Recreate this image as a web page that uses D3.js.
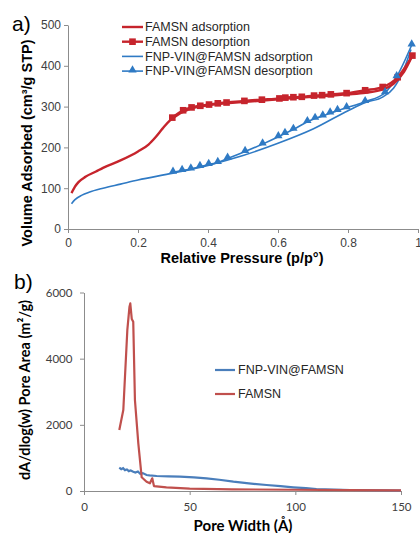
<!DOCTYPE html>
<html>
<head>
<meta charset="utf-8">
<script src="https://cdn.jsdelivr.net/npm/d3@7"></script>
<style>
  body { margin: 0; background: #fff; }
  svg { display: block; }
  .tick text { fill: #404040; }
</style>
</head>
<body>
<script>
// panel a: N2 isotherms (p/p0, cm3/g STP)
const famsnAdsP = [0.01, 0.02, 0.03, 0.05, 0.08, 0.1, 0.15, 0.2, 0.23, 0.25, 0.27, 0.29, 0.3, 0.35, 0.4, 0.5, 0.6, 0.7, 0.8, 0.85, 0.9, 0.93, 0.96, 0.984];
const famsnAdsV = [88, 104, 115, 128, 141, 150, 168, 190, 207, 225, 246, 265, 272, 295, 303, 311, 318, 324, 330, 334, 342, 356, 385, 425];
const famsnDesP = [0.298, 0.329, 0.353, 0.378, 0.403, 0.428, 0.453, 0.504, 0.554, 0.604, 0.621, 0.644, 0.668, 0.703, 0.726, 0.751, 0.796, 0.849, 0.899, 0.942, 0.984];
const famsnDesV = [273, 291, 298, 302, 305, 308, 310, 314, 317, 320, 322, 323, 324, 327, 328, 330, 333, 340, 348, 372, 425];
const fnpAdsP = [0.01, 0.02, 0.04, 0.06, 0.1, 0.15, 0.2, 0.3, 0.4, 0.5, 0.6, 0.7, 0.8, 0.85, 0.9, 0.93, 0.958, 0.98];
const fnpAdsV = [62, 72, 83, 90, 100, 110, 120, 137, 156, 180, 210, 245, 290, 310, 324, 345, 388, 440];
const fnpDesP = [0.3, 0.326, 0.351, 0.377, 0.402, 0.428, 0.456, 0.506, 0.556, 0.601, 0.62, 0.644, 0.684, 0.706, 0.728, 0.749, 0.77, 0.796, 0.849, 0.906, 0.939, 0.982];
const fnpDesV = [139, 143, 147, 153, 158, 163, 173, 190, 208, 226, 234, 244, 263, 271, 277, 284, 290, 297, 312, 334, 373, 451];
const xTicksA = [0, 0.2, 0.4, 0.6, 0.8, 1];
const yTicksA = [0, 100, 200, 300, 400, 500];
const legendA = ["FAMSN adsorption", "FAMSN desorption", "FNP-VIN@FAMSN adsorption", "FNP-VIN@FAMSN desorption"];

// panel b: pore area distribution (Å, m2/g)
const famsnW = [16.7, 18.6, 20.5, 21.5, 21.9, 22.6, 23.3, 24.1, 25.7, 27.3, 29.6, 31.2, 32.3, 33.1, 39, 50, 70, 100, 125, 150];
const famsnA = [1843, 2450, 4860, 5560, 5670, 5200, 5115, 2750, 1440, 414, 281, 232, 383, 150, 112, 70, 50, 38, 28, 20];
const fnpW = [16.7, 17.6, 18.5, 19.4, 20.3, 21.2, 22.1, 23.3, 24.3, 25.5, 26.6, 27.8, 29.6, 31, 34.4, 40, 45.4, 52, 58, 64, 70.7, 78, 86.4, 93, 99, 105, 110, 118, 126, 138, 150];
const fnpA = [705, 660, 690, 630, 650, 600, 620, 583, 560, 590, 520, 540, 483, 470, 453, 445, 432, 410, 384, 340, 281, 230, 181, 145, 112, 85, 60, 42, 30, 22, 15];
const xTicksB = [0, 50, 100, 150];
const yTicksB = [0, 2000, 4000, 6000];
const legendB = ["FNP-VIN@FAMSN", "FAMSN"];

const red = "#c6242c", blue = "#2f7ac4";
const redB = "#c0504d", blueB = "#4a7ebb";
const axisCol = "#8c8c8c";

const svg = d3.select("body").append("svg").attr("width", 420).attr("height", 533);

function styleAxis(g) {
  g.selectAll("path, line").attr("stroke", axisCol);
}

// ---------- panel a ----------
const xa = d3.scaleLinear().domain([0, 1]).range([68, 418]);
const ya = d3.scaleLinear().domain([0, 500]).range([229, 25]);
const fontA = "'Liberation Sans', Arial, sans-serif";

svg.append("g").attr("transform", "translate(0,229)")
  .call(d3.axisBottom(xa).tickValues(xTicksA).tickSize(4).tickSizeOuter(0).tickFormat(d3.format("")))
  .call(styleAxis)
  .call(g => g.selectAll("text").attr("font-family", fontA).attr("font-size", 12).attr("dy", "0.95em"));
svg.append("g").attr("transform", "translate(68,0)")
  .call(d3.axisLeft(ya).tickValues(yTicksA).tickSize(4).tickSizeOuter(0))
  .call(styleAxis)
  .call(g => g.selectAll("text").attr("font-family", fontA).attr("font-size", 12));

const lineA = d3.line().x(d => xa(d[0])).y(d => ya(d[1])).curve(d3.curveMonotoneX);
const zipA = (xs, ys) => xs.map((x, i) => [x, ys[i]]);

svg.append("path").datum(zipA(fnpAdsP, fnpAdsV)).attr("d", lineA)
  .attr("fill", "none").attr("stroke", blue).attr("stroke-width", 1.6);
svg.append("path").datum(zipA(fnpDesP, fnpDesV)).attr("d", lineA)
  .attr("fill", "none").attr("stroke", blue).attr("stroke-width", 1.6);
svg.append("path").datum(zipA(famsnAdsP, famsnAdsV)).attr("d", lineA)
  .attr("fill", "none").attr("stroke", red).attr("stroke-width", 2.4);
svg.append("path").datum(zipA(famsnDesP, famsnDesV)).attr("d", lineA)
  .attr("fill", "none").attr("stroke", red).attr("stroke-width", 2.4);

const sq = d3.symbol().type(d3.symbolSquare).size(44);
const tri = d3.symbol().type(d3.symbolTriangle).size(30);
svg.append("g").selectAll("path").data(zipA(famsnDesP, famsnDesV)).join("path")
  .attr("d", sq).attr("fill", red)
  .attr("transform", d => `translate(${xa(d[0])},${ya(d[1])})`);
svg.append("g").selectAll("path").data(zipA(fnpDesP, fnpDesV)).join("path")
  .attr("d", tri).attr("fill", blue)
  .attr("transform", d => `translate(${xa(d[0])},${ya(d[1]) - 1})`);

// legend a
const legA = svg.append("g").attr("font-family", fontA).attr("font-size", 12.5);
legendA.forEach((t, i) => {
  const y = 27 + i * 14.7;
  const c = i < 2 ? red : blue;
  legA.append("line").attr("x1", 122).attr("x2", 143).attr("y1", y).attr("y2", y)
    .attr("stroke", c).attr("stroke-width", i < 2 ? 2.4 : 1.6);
  if (i === 1) legA.append("path").attr("d", sq).attr("fill", c).attr("transform", `translate(132.5,${y})`);
  if (i === 3) legA.append("path").attr("d", tri).attr("fill", c).attr("transform", `translate(132.5,${y - 1})`);
  legA.append("text").attr("x", 145).attr("y", y).attr("dy", "0.35em").attr("fill", "#262626").text(t);
});

svg.append("text").attr("x", 242).attr("y", 263).attr("text-anchor", "middle")
  .attr("font-family", fontA).attr("font-size", 14.5).attr("font-weight", "bold").text("Relative Pressure (p/p°)");
svg.append("text").attr("transform", "translate(27,143) rotate(-90)").attr("text-anchor", "middle").attr("dy", "0.35em")
  .attr("font-family", fontA).attr("font-size", 14.5).attr("font-weight", "bold").text("Volume Adsorbed (cm³/g STP)");
svg.append("text").attr("x", 12).attr("y", 31).attr("font-family", fontA).attr("font-size", 21).text("a)");

// ---------- panel b ----------
const xb = d3.scaleLinear().domain([0, 150]).range([84, 401]);
const yb = d3.scaleLinear().domain([0, 6000]).range([491, 292.5]);
const fontB = "Lato, 'Open Sans', sans-serif";

svg.append("g").attr("transform", "translate(0,491)")
  .call(d3.axisBottom(xb).tickValues(xTicksB).tickSize(4).tickSizeOuter(0))
  .call(styleAxis)
  .call(g => g.selectAll("text").attr("font-family", fontB).attr("font-size", 11.5).attr("dy", "1.1em"));
svg.append("g").attr("transform", "translate(84,0)")
  .call(d3.axisLeft(yb).tickValues(yTicksB).tickSize(4).tickSizeOuter(0).tickFormat(d3.format("")))
  .call(styleAxis)
  .call(g => g.selectAll("text").attr("font-family", fontB).attr("font-size", 11.5).attr("dx", "-0.4em"));

const lineB = d3.line().x(d => xb(d[0])).y(d => yb(d[1]));
svg.append("path").datum(zipA(fnpW, fnpA)).attr("d", lineB)
  .attr("fill", "none").attr("stroke", blueB).attr("stroke-width", 2.2);
svg.append("path").datum(zipA(famsnW, famsnA)).attr("d", lineB)
  .attr("fill", "none").attr("stroke", redB).attr("stroke-width", 2.2).attr("stroke-linejoin", "round");

const legB = svg.append("g").attr("font-family", "'Liberation Sans', Arial, sans-serif").attr("font-size", 12.5);
legendB.forEach((t, i) => {
  const y = 370 + i * 24;
  legB.append("line").attr("x1", 215).attr("x2", 235).attr("y1", y).attr("y2", y)
    .attr("stroke", i === 0 ? blueB : redB).attr("stroke-width", 2.2);
  legB.append("text").attr("x", 238).attr("y", y).attr("dy", "0.35em").attr("fill", "#262626").text(t);
});

svg.append("text").attr("x", 243).attr("y", 531).attr("text-anchor", "middle")
  .attr("font-family", fontB).attr("font-size", 15).attr("font-weight", "bold").text("Pore Width (Å)");
svg.append("text").attr("transform", "translate(25,390) rotate(-90)").attr("text-anchor", "middle").attr("dy", "0.35em")
  .attr("font-family", fontB).attr("font-size", 14.5).attr("font-weight", "bold").text("dA/dlog(w) Pore Area (m²/g)");
svg.append("text").attr("x", 14).attr("y", 289).attr("font-family", fontA).attr("font-size", 21).text("b)");
</script>
</body>
</html>
